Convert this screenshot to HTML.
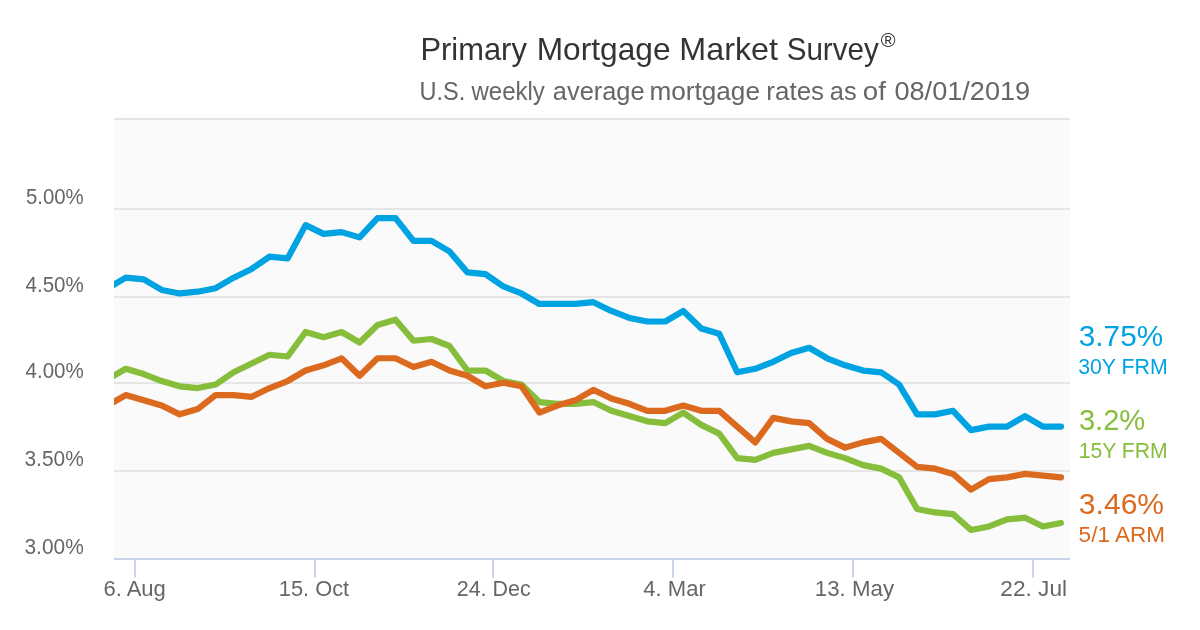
<!DOCTYPE html>
<html lang="en"><head><meta charset="utf-8"><title>Primary Mortgage Market Survey</title>
<style>
html,body{margin:0;padding:0;background:#fff;}
body{width:1200px;height:630px;overflow:hidden;}
svg{display:block;will-change:transform;}
text{font-family:"Liberation Sans",sans-serif;}
.ax{font-size:22px;fill:#666;}
.ti{font-size:31px;fill:#333;}
.reg{font-size:19px;fill:#333;}
.su{font-size:24.7px;fill:#666;}
.big{font-size:30.5px;}
.sm{font-size:21.4px;}
</style></head><body>
<svg width="1200" height="630" viewBox="0 0 1200 630">
<defs><clipPath id="pc"><rect x="114" y="118" width="956" height="440"/></clipPath></defs>
<rect width="1200" height="630" fill="#ffffff"/>
<rect x="114" y="118" width="956" height="440" fill="#fafafa"/>
<rect x="114" y="118" width="956" height="2" fill="#e5e5e5"/>
<rect x="114" y="208" width="956" height="2" fill="#e5e5e5"/>
<rect x="114" y="296" width="956" height="2" fill="#e5e5e5"/>
<rect x="114" y="382" width="956" height="2" fill="#e5e5e5"/>
<rect x="114" y="470" width="956" height="2" fill="#e5e5e5"/>
<rect x="114" y="558" width="956" height="2" fill="#c9d3ea"/>
<rect x="134" y="560" width="2" height="17.5" fill="#c9d3ea"/>
<text x="103.40" y="595.8" font-size="22.7" fill="#666" textLength="62.49" lengthAdjust="spacingAndGlyphs">6. Aug</text>
<rect x="314" y="560" width="2" height="17.5" fill="#c9d3ea"/>
<text x="278.84" y="595.8" font-size="22.7" fill="#666" textLength="70.32" lengthAdjust="spacingAndGlyphs">15. Oct</text>
<rect x="492" y="560" width="2" height="17.5" fill="#c9d3ea"/>
<text x="456.72" y="595.8" font-size="22.7" fill="#666" textLength="74.05" lengthAdjust="spacingAndGlyphs">24. Dec</text>
<rect x="672" y="560" width="2" height="17.5" fill="#c9d3ea"/>
<text x="643.29" y="595.8" font-size="22.7" fill="#666" textLength="62.57" lengthAdjust="spacingAndGlyphs">4. Mar</text>
<rect x="852" y="560" width="2" height="17.5" fill="#c9d3ea"/>
<text x="814.80" y="595.8" font-size="22.7" fill="#666" textLength="79.24" lengthAdjust="spacingAndGlyphs">13. May</text>
<rect x="1032" y="560" width="2" height="17.5" fill="#c9d3ea"/>
<text x="1000.36" y="595.8" font-size="22.7" fill="#666" textLength="66.65" lengthAdjust="spacingAndGlyphs">22. Jul</text>
<text x="25.88" y="203.8" font-size="22.7" fill="#666" textLength="57.84" lengthAdjust="spacingAndGlyphs">5.00%</text>
<text x="25.53" y="291.8" font-size="22.7" fill="#666" textLength="58.20" lengthAdjust="spacingAndGlyphs">4.50%</text>
<text x="25.53" y="377.8" font-size="22.7" fill="#666" textLength="58.20" lengthAdjust="spacingAndGlyphs">4.00%</text>
<text x="24.50" y="465.8" font-size="22.7" fill="#666" textLength="59.24" lengthAdjust="spacingAndGlyphs">3.50%</text>
<text x="24.50" y="553.8" font-size="22.7" fill="#666" textLength="59.24" lengthAdjust="spacingAndGlyphs">3.00%</text>
<g clip-path="url(#pc)" fill="none" stroke-width="6.2" stroke-linejoin="round" stroke-linecap="round">
<path d="M107.77 288.19 L125.75 277.68 L143.74 279.43 L161.72 289.94 L179.70 293.45 L197.69 291.70 L215.68 288.19 L233.66 277.68 L251.64 268.92 L269.63 256.66 L287.62 258.41 L305.60 225.12 L323.58 233.88 L341.57 232.13 L359.56 237.38 L377.54 218.11 L395.52 218.11 L413.51 240.89 L431.50 240.89 L449.48 251.40 L467.46 272.42 L485.45 274.18 L503.44 286.44 L521.42 293.45 L539.40 303.96 L557.39 303.96 L575.38 303.96 L593.36 302.21 L611.35 310.97 L629.33 317.98 L647.31 321.48 L665.30 321.48 L683.28 310.97 L701.27 328.49 L719.25 333.74 L737.24 372.29 L755.23 368.78 L773.21 361.78 L791.19 353.02 L809.18 347.76 L827.16 358.27 L845.15 365.28 L863.13 370.54 L881.12 372.29 L899.11 384.55 L917.09 414.34 L935.07 414.34 L953.06 410.83 L971.04 430.10 L989.03 426.60 L1007.01 426.60 L1025.00 416.09 L1042.99 426.60 L1060.97 426.60" stroke="#00a3e2"/>
<path d="M107.77 379.30 L125.75 368.78 L143.74 374.04 L161.72 381.05 L179.70 386.30 L197.69 388.06 L215.68 384.55 L233.66 372.29 L251.64 363.53 L269.63 354.77 L287.62 356.52 L305.60 331.99 L323.58 337.25 L341.57 331.99 L359.56 342.50 L377.54 324.98 L395.52 319.73 L413.51 340.75 L431.50 339.00 L449.48 346.01 L467.46 370.54 L485.45 370.54 L503.44 381.05 L521.42 384.55 L539.40 402.07 L557.39 403.82 L575.38 403.82 L593.36 402.07 L611.35 410.83 L629.33 416.09 L647.31 421.34 L665.30 423.10 L683.28 412.58 L701.27 424.85 L719.25 433.61 L737.24 458.14 L755.23 459.89 L773.21 452.88 L791.19 449.38 L809.18 445.87 L827.16 452.88 L845.15 458.14 L863.13 465.14 L881.12 468.65 L899.11 477.41 L917.09 508.94 L935.07 512.45 L953.06 514.20 L971.04 529.97 L989.03 526.46 L1007.01 519.46 L1025.00 517.70 L1042.99 526.46 L1060.97 522.96" stroke="#86bd3b"/>
<path d="M107.77 405.58 L125.75 395.06 L143.74 400.32 L161.72 405.58 L179.70 414.34 L197.69 409.08 L215.68 395.06 L233.66 395.06 L251.64 396.82 L269.63 388.06 L287.62 381.05 L305.60 370.54 L323.58 365.28 L341.57 358.27 L359.56 375.79 L377.54 358.27 L395.52 358.27 L413.51 367.03 L431.50 361.78 L449.48 370.54 L467.46 375.79 L485.45 386.30 L503.44 382.80 L521.42 386.30 L539.40 412.58 L557.39 405.58 L575.38 400.32 L593.36 389.81 L611.35 398.57 L629.33 403.82 L647.31 410.83 L665.30 410.83 L683.28 405.58 L701.27 410.83 L719.25 410.83 L737.24 426.60 L755.23 442.37 L773.21 417.84 L791.19 421.34 L809.18 423.10 L827.16 438.86 L845.15 447.62 L863.13 442.37 L881.12 438.86 L899.11 452.88 L917.09 466.90 L935.07 468.65 L953.06 473.90 L971.04 489.67 L989.03 479.16 L1007.01 477.41 L1025.00 473.90 L1042.99 475.66 L1060.97 477.41" stroke="#db6a1e"/>
</g>
<text x="420.47" y="59.8" font-size="31.3" fill="#333" textLength="106.39" lengthAdjust="spacingAndGlyphs">Primary</text>
<text x="536.70" y="59.8" font-size="31.3" fill="#333" textLength="133.81" lengthAdjust="spacingAndGlyphs">Mortgage</text>
<text x="679.35" y="59.8" font-size="31.3" fill="#333" textLength="98.69" lengthAdjust="spacingAndGlyphs">Market</text>
<text x="786.66" y="59.8" font-size="31.3" fill="#333" textLength="92.15" lengthAdjust="spacingAndGlyphs">Survey</text>
<text x="880.70" y="47.2" font-size="21" fill="#333" textLength="14.82" lengthAdjust="spacingAndGlyphs">®</text>
<text x="419.58" y="99.5" font-size="25" fill="#666" textLength="45.76" lengthAdjust="spacingAndGlyphs">U.S.</text>
<text x="471.44" y="99.5" font-size="25" fill="#666" textLength="73.41" lengthAdjust="spacingAndGlyphs">weekly</text>
<text x="552.82" y="99.5" font-size="25" fill="#666" textLength="91.81" lengthAdjust="spacingAndGlyphs">average</text>
<text x="649.46" y="99.5" font-size="25" fill="#666" textLength="110.50" lengthAdjust="spacingAndGlyphs">mortgage</text>
<text x="766.38" y="99.5" font-size="25" fill="#666" textLength="57.66" lengthAdjust="spacingAndGlyphs">rates</text>
<text x="829.82" y="99.5" font-size="25" fill="#666" textLength="26.79" lengthAdjust="spacingAndGlyphs">as</text>
<text x="862.74" y="99.5" font-size="25" fill="#666" textLength="23.12" lengthAdjust="spacingAndGlyphs">of</text>
<text x="894.44" y="99.5" font-size="25" fill="#666" textLength="135.74" lengthAdjust="spacingAndGlyphs">08/01/2019</text>
<text x="1078.87" y="346.2" font-size="30.0" fill="#00a3e2" textLength="84.19" lengthAdjust="spacingAndGlyphs">3.75%</text>
<text x="1078.19" y="374.2" font-size="21.4" fill="#00a3e2" textLength="89.55" lengthAdjust="spacingAndGlyphs">30Y FRM</text>
<text x="1078.89" y="430.4" font-size="30.0" fill="#86bd3b" textLength="66.35" lengthAdjust="spacingAndGlyphs">3.2%</text>
<text x="1078.69" y="458.2" font-size="21.4" fill="#86bd3b" textLength="89.04" lengthAdjust="spacingAndGlyphs">15Y FRM</text>
<text x="1078.86" y="513.6" font-size="30.0" fill="#db6a1e" textLength="85.22" lengthAdjust="spacingAndGlyphs">3.46%</text>
<text x="1078.61" y="541.6" font-size="21.4" fill="#db6a1e" textLength="86.41" lengthAdjust="spacingAndGlyphs">5/1 ARM</text>
</svg>
</body></html>
